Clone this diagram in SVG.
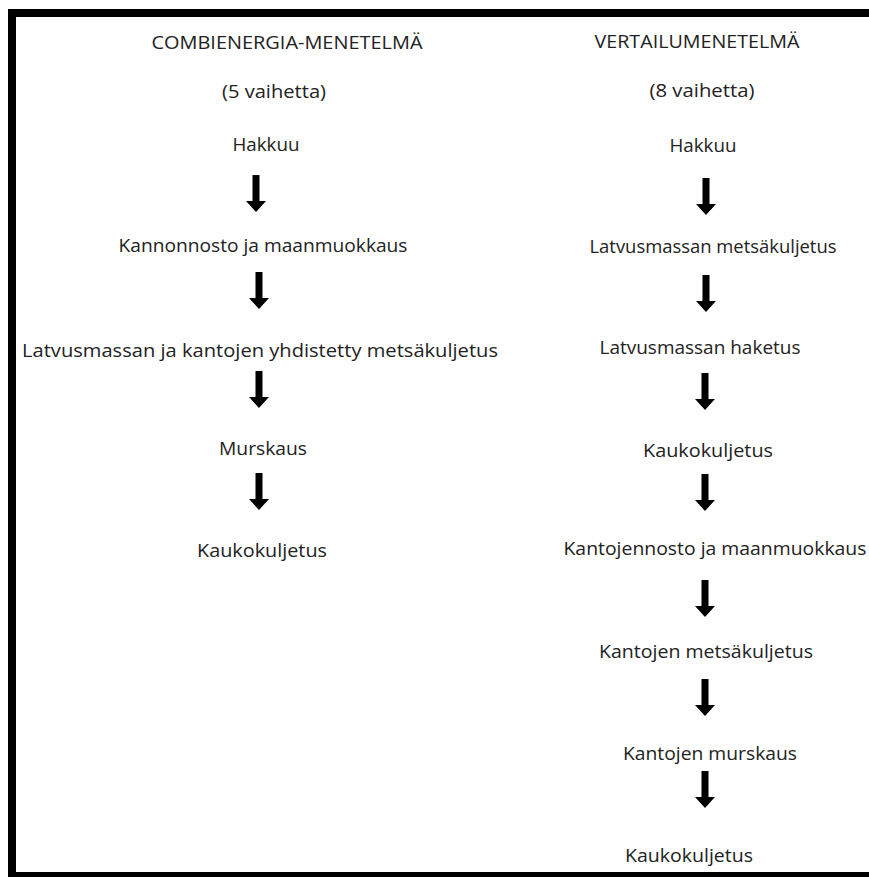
<svg xmlns="http://www.w3.org/2000/svg" xmlns:xlink="http://www.w3.org/1999/xlink" width="869" height="877" viewBox="0 0 869 877">
<style>
  text { font-family: "Open Sans", "Liberation Sans", Arial, sans-serif; font-size: 18px; fill: #222; text-anchor: middle; }
  .arrow { fill: #000; }
</style>
<defs>
  <path id="arr" d="M-3.5 0 H3.5 V26 H10 L0 37 L-10 26 H-3.5 Z"/>
</defs>
<rect x="0" y="0" width="869" height="877" fill="#fff"/>
<rect id="frame" x="12" y="13" width="880" height="863" fill="none" stroke="#000" stroke-width="8"/>

<g id="left-column">
  <g id="l-header"><text x="287" y="49" textLength="271" lengthAdjust="spacingAndGlyphs">COMBIENERGIA-MENETELMÄ</text></g>
  <g id="l-count"><text x="274" y="98" textLength="104" lengthAdjust="spacingAndGlyphs">(5 vaihetta)</text></g>
  <g id="l1"><text x="266" y="151" textLength="67" lengthAdjust="spacingAndGlyphs">Hakkuu</text></g>
  <g id="l2"><text x="263" y="252" textLength="289" lengthAdjust="spacingAndGlyphs">Kannonnosto ja maanmuokkaus</text></g>
  <g id="l3"><text x="260" y="357" textLength="476" lengthAdjust="spacingAndGlyphs">Latvusmassan ja kantojen yhdistetty metsäkuljetus</text></g>
  <g id="l4"><text x="263" y="455" textLength="88" lengthAdjust="spacingAndGlyphs">Murskaus</text></g>
  <g id="l5"><text x="262" y="557" textLength="130" lengthAdjust="spacingAndGlyphs">Kaukokuljetus</text></g>
</g>

<g id="right-column">
  <g id="r-header"><text x="697" y="48" textLength="205" lengthAdjust="spacingAndGlyphs">VERTAILUMENETELMÄ</text></g>
  <g id="r-count"><text x="702" y="97" textLength="105" lengthAdjust="spacingAndGlyphs">(8 vaihetta)</text></g>
  <g id="r1"><text x="703" y="152" textLength="67" lengthAdjust="spacingAndGlyphs">Hakkuu</text></g>
  <g id="r2"><text x="713" y="253" textLength="247" lengthAdjust="spacingAndGlyphs">Latvusmassan metsäkuljetus</text></g>
  <g id="r3"><text x="700" y="354" textLength="201" lengthAdjust="spacingAndGlyphs">Latvusmassan haketus</text></g>
  <g id="r4"><text x="708" y="457" textLength="130" lengthAdjust="spacingAndGlyphs">Kaukokuljetus</text></g>
  <g id="r5"><text x="715" y="555" textLength="303" lengthAdjust="spacingAndGlyphs">Kantojennosto ja maanmuokkaus</text></g>
  <g id="r6"><text x="706" y="658" textLength="214" lengthAdjust="spacingAndGlyphs">Kantojen metsäkuljetus</text></g>
  <g id="r7"><text x="710" y="760" textLength="174" lengthAdjust="spacingAndGlyphs">Kantojen murskaus</text></g>
  <g id="r8"><text x="689" y="862" textLength="128" lengthAdjust="spacingAndGlyphs">Kaukokuljetus</text></g>
</g>

<g id="connectors" class="arrow">
  <use href="#arr" xlink:href="#arr" x="256" y="175"/>
  <use href="#arr" xlink:href="#arr" x="259" y="272"/>
  <use href="#arr" xlink:href="#arr" x="259" y="371"/>
  <use href="#arr" xlink:href="#arr" x="259" y="473"/>
  <use href="#arr" xlink:href="#arr" x="706" y="178"/>
  <use href="#arr" xlink:href="#arr" x="706" y="275"/>
  <use href="#arr" xlink:href="#arr" x="705" y="373"/>
  <use href="#arr" xlink:href="#arr" x="705" y="474"/>
  <use href="#arr" xlink:href="#arr" x="705" y="580"/>
  <use href="#arr" xlink:href="#arr" x="705" y="679"/>
  <use href="#arr" xlink:href="#arr" x="705" y="771"/>
</g>
</svg>
